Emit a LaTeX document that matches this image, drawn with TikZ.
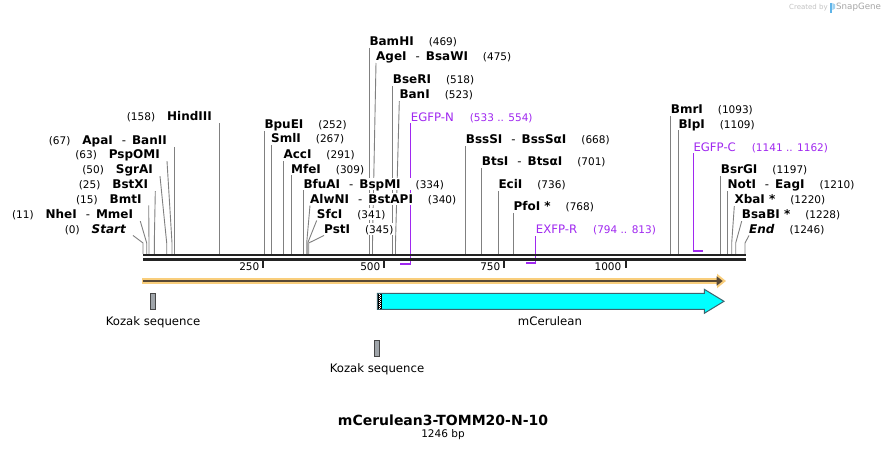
\documentclass[tikz,border=0pt]{standalone}
\usepackage{fontspec}
\setmainfont{DejaVu Sans}
\usepackage{tikz}
\usetikzlibrary{arrows.meta,positioning}

\definecolor{seqgray}{RGB}{35,35,35}
\definecolor{cutgray}{RGB}{128,128,128}
\definecolor{primer}{RGB}{160,40,240}
\definecolor{orfpale}{RGB}{249,206,124}
\definecolor{orfdark}{RGB}{88,72,52}
\definecolor{cdsfill}{RGB}{0,255,255}
\definecolor{cdsline}{RGB}{60,100,110}
\definecolor{kozfill}{RGB}{160,165,170}
\definecolor{kozline}{RGB}{70,70,70}
\definecolor{wmgray}{RGB}{195,195,195}
\definecolor{logoblue}{RGB}{95,180,232}

\pgfdeclarelayer{bg}
\pgfsetlayers{bg,main}

\newcommand{\enzname}[1]{{\fontsize{12bp}{13bp}\selectfont\bfseries #1}}
\newcommand{\enzpos}[1]{{\fontsize{10.5bp}{12bp}\selectfont(#1)}}
\newcommand{\enzsep}{\hspace{9bp}-\hspace{6bp}}

\tikzset{
  lcut/.style={anchor=east, inner xsep=7bp, inner ysep=0pt, text height=10bp, text depth=2bp, fill=white},
  rcut/.style={anchor=west, inner xsep=0pt, inner ysep=0pt, text height=10bp, text depth=2bp, fill=white},
  cut/.style={draw=cutgray, line width=0.9bp},
  primerline/.style={draw=primer, line width=1.4bp},
  primerbar/.style={draw=primer, line width=2bp},
  seq/.style={draw=seqgray, line width=2.4bp},
  tick/.style={draw=seqgray, line width=2bp},
  ticklab/.style={anchor=base east, inner sep=0pt, font=\fontsize{10.5bp}{12bp}\selectfont},
  kozak/.style={draw=kozline, fill=kozfill, line width=1bp, minimum width=5.4bp, minimum height=16bp, inner sep=0pt},
  cds/.style={draw=cdsline, fill=cdsfill, line width=1bp},
  featlab/.style={inner sep=2bp, text height=9bp, text depth=3bp}
}

\begin{document}
\begin{tikzpicture}[x=1bp, y=-1bp, font=\fontsize{11.7bp}{13bp}\selectfont]
    \useasboundingbox (0,0) rectangle (888,451);

    % Sequence {line, ticks}
    \coordinate (seqL) at (143,255);
    \coordinate (seqR) at (746,255);
    \coordinate (kink) at (0,243);
    \draw[seq] (seqL) -- (seqR);
    \draw[seq] ([yshift=-4.5bp]seqL) -- ([yshift=-4.5bp]seqR);
    \draw[tick] (263.3,259) -- (263.3,268);
    \draw[tick] (384,259) -- (384,268);
    \draw[tick] (504,259) -- (504,268);
    \draw[tick] (625.5,259) -- (625.5,268);
    \node[ticklab] (t250)  at (259.5,270.5) {250};
    \node[ticklab] (t500)  at (380.5,270.5) {500};
    \node[ticklab] (t750)  at (500.5,270.5) {750};
    \node[ticklab] (t1000) at (621.5,270.5) {1000};

    % Cut sites on the sequence
    \coordinate (c0)    at (143,254);
    \coordinate (c11)   at (146.7,254);
    \coordinate (c15)   at (149,254);
    \coordinate (c25)   at (154.3,254);
    \coordinate (c50)   at (166.7,254);
    \coordinate (c63)   at (172,254);
    \coordinate (c67)   at (174,254);
    \coordinate (c158)  at (219,254);
    \coordinate (c252)  at (264.3,254);
    \coordinate (c267)  at (271,254);
    \coordinate (c291)  at (283.3,254);
    \coordinate (c309)  at (291,254);
    \coordinate (c334)  at (303.3,254);
    \coordinate (c340)  at (306.7,254);
    \coordinate (c341)  at (307.7,254);
    \coordinate (c345)  at (308.7,254);
    \coordinate (c469)  at (369.3,254);
    \coordinate (c475)  at (372.5,254);
    \coordinate (c518)  at (392.7,254);
    \coordinate (c523)  at (395.5,254);
    \coordinate (c668)  at (465.7,254);
    \coordinate (c701)  at (481.7,254);
    \coordinate (c736)  at (498.3,254);
    \coordinate (c768)  at (513.3,254);
    \coordinate (c1093) at (670.7,254);
    \coordinate (c1109) at (678.3,254);
    \coordinate (c1197) at (720.7,254);
    \coordinate (c1210) at (727.3,254);
    \coordinate (c1220) at (731.7,254);
    \coordinate (c1228) at (735.7,254);
    \coordinate (c1246) at (745,254);

    % Nodes {left labels}
    \node [lcut] (hindiii) at (219,117)   {\enzpos{158}\hspace{12bp}\enzname{HindIII}};
    \node [lcut] (apai)    at (174,140.7) {\enzpos{67}\hspace{12bp}\enzname{ApaI}\enzsep\enzname{BanII}};
    \node [lcut] (pspomi)  at (167,155)   {\enzpos{63}\hspace{12bp}\enzname{PspOMI}};
    \node [lcut] (sgrai)   at (160,170)   {\enzpos{50}\hspace{12bp}\enzname{SgrAI}};
    \node [lcut] (bstxi)   at (155.3,185) {\enzpos{25}\hspace{12bp}\enzname{BstXI}};
    \node [lcut] (bmti)    at (148.7,199.3) {\enzpos{15}\hspace{12bp}\enzname{BmtI}};
    \node [lcut] (nhei)    at (140.3,215) {\enzpos{11}\hspace{12bp}\enzname{NheI}\enzsep\enzname{MmeI}};
    \node [lcut] (start)   at (133,229.3) {\enzpos{0}\hspace{12bp}\enzname{\itshape Start}};

    % Nodes {right labels}
    \node [rcut] (bpuei)  at (264.3,125)   {\enzname{BpuEI}\hspace{15bp}\enzpos{252}};
    \node [rcut] (smli)   at (271,139)     {\enzname{SmlI}\hspace{15bp}\enzpos{267}};
    \node [rcut] (acci)   at (283.3,155)   {\enzname{AccI}\hspace{15bp}\enzpos{291}};
    \node [rcut] (mfei)   at (291,169.3)   {\enzname{MfeI}\hspace{15bp}\enzpos{309}};
    \node [rcut] (bfuai)  at (303.3,184.3) {\enzname{BfuAI}\enzsep\enzname{BspMI}\hspace{15bp}\enzpos{334}};
    \node [rcut] (alwni)  at (310,199.3)   {\enzname{AlwNI}\enzsep\enzname{BstAPI}\hspace{15bp}\enzpos{340}};
    \node [rcut] (sfci)   at (316.7,214.3) {\enzname{SfcI}\hspace{15bp}\enzpos{341}};
    \node [rcut] (psti)   at (324,229.3)   {\enzname{PstI}\hspace{15bp}\enzpos{345}};
    \node [rcut] (bamhi)  at (369.3,41.7)  {\enzname{BamHI}\hspace{15bp}\enzpos{469}};
    \node [rcut] (agei)   at (376,56.7)    {\enzname{AgeI}\enzsep\enzname{BsaWI}\hspace{15bp}\enzpos{475}};
    \node [rcut] (bseri)  at (392.7,80)    {\enzname{BseRI}\hspace{15bp}\enzpos{518}};
    \node [rcut] (bani)   at (399.3,95)    {\enzname{BanI}\hspace{15bp}\enzpos{523}};
    \node [rcut] (bsssi)  at (465.7,140)   {\enzname{BssSI}\enzsep\enzname{BssSαI}\hspace{15bp}\enzpos{668}};
    \node [rcut] (btsi)   at (481.7,161.7) {\enzname{BtsI}\enzsep\enzname{BtsαI}\hspace{15bp}\enzpos{701}};
    \node [rcut] (ecii)   at (498.3,185)   {\enzname{EciI}\hspace{15bp}\enzpos{736}};
    \node [rcut] (pfoi)   at (513.3,206.7) {\enzname{PfoI *}\hspace{15bp}\enzpos{768}};
    \node [rcut] (bmri)   at (670.7,110)   {\enzname{BmrI}\hspace{15bp}\enzpos{1093}};
    \node [rcut] (blpi)   at (678.3,124.3) {\enzname{BlpI}\hspace{15bp}\enzpos{1109}};
    \node [rcut] (bsrgi)  at (720.7,170)   {\enzname{BsrGI}\hspace{15bp}\enzpos{1197}};
    \node [rcut] (noti)   at (727.3,185)   {\enzname{NotI}\enzsep\enzname{EagI}\hspace{15bp}\enzpos{1210}};
    \node [rcut] (xbai)   at (734.3,200)   {\enzname{XbaI *}\hspace{15bp}\enzpos{1220}};
    \node [rcut] (bsabi)  at (741.7,215)   {\enzname{BsaBI *}\hspace{15bp}\enzpos{1228}};
    \node [rcut] (endl)   at (749,229.3)   {\enzname{\itshape End}\hspace{15bp}\enzpos{1246}};

    % Nodes {primers}
    \node [rcut, text=primer] (egfpn) at (410.7,117.3) {EGFP-N\hspace{16bp}\enzpos{533 .. 554}};
    \node [rcut, text=primer] (exfpr) at (535.7,230)   {EXFP-R\hspace{16bp}\enzpos{794 .. 813}};
    \node [rcut, text=primer] (egfpc) at (693.3,147.3) {EGFP-C\hspace{16bp}\enzpos{1141 .. 1162}};
    \coordinate (egfpn-5) at (400,264.3);
    \coordinate (egfpn-3) at (410.7,264.3);
    \coordinate (exfpr-5) at (526,263.5);
    \coordinate (exfpr-3) at (535.7,263.5);
    \coordinate (egfpc-5) at (693.3,251);
    \coordinate (egfpc-3) at (702.7,251);

    \begin{pgfonlayer}{bg}
    \fill[white] (0,0) rectangle (888,451);

    % Paths {left leaders}
    \path [cut] (hindiii.south east) -- (c158);
    \path [cut] (apai.south east) -- (c67);
    \path [cut] (pspomi.south east) -- (c63 |- kink) -- (c63);
    \path [cut] (sgrai.south east) -- (c50 |- kink) -- (c50);
    \path [cut] (bstxi.south east) -- (c25 |- kink) -- (c25);
    \path [cut] (bmti.south east) -- (c15 |- kink) -- (c15);
    \path [cut] (nhei.south east) -- (c11 |- kink) -- (c11);
    \path [cut] (start.south east) -- (c0 |- kink) -- (c0);

    % Paths {right leaders}
    \path [cut] (bpuei.south west) -- (c252);
    \path [cut] (smli.south west) -- (c267);
    \path [cut] (acci.south west) -- (c291);
    \path [cut] (mfei.south west) -- (c309);
    \path [cut] (bfuai.south west) -- (c334);
    \path [cut] (alwni.south west) -- (c340 |- kink) -- (c340);
    \path [cut] (sfci.south west) -- (c341 |- kink) -- (c341);
    \path [cut] (psti.south west) -- (c345 |- kink) -- (c345);
    \path [cut] (bamhi.south west) -- (c469);
    \path [cut] (agei.south west) -- (c475 |- kink) -- (c475);
    \path [cut] (bseri.south west) -- (c518);
    \path [cut] (bani.south west) -- (c523 |- kink) -- (c523);
    \path [cut] (bsssi.south west) -- (c668);
    \path [cut] (btsi.south west) -- (c701);
    \path [cut] (ecii.south west) -- (c736);
    \path [cut] (pfoi.south west) -- (c768);
    \path [cut] (bmri.south west) -- (c1093);
    \path [cut] (blpi.south west) -- (c1109);
    \path [cut] (bsrgi.south west) -- (c1197);
    \path [cut] (noti.south west) -- (c1210);
    \path [cut] (xbai.south west) -- (c1220 |- kink) -- (c1220);
    \path [cut] (bsabi.south west) -- (c1228 |- kink) -- (c1228);
    \path [cut] (endl.south west) -- (c1246 |- kink) -- (c1246);

    % Paths {primers}
    \path [primerline] (egfpn.south west) -- ([yshift=-1bp]egfpn-3);
    \path [primerline] (exfpr.south west) -- ([yshift=-1bp]exfpr-3);
    \path [primerline] (egfpc.south west) -- ([yshift=-1bp]egfpc-5);
    \end{pgfonlayer}
    \path [primerbar] (egfpn-5) -- ([xshift=0.7bp]egfpn-3);
    \path [primerbar] (exfpr-5) -- ([xshift=0.7bp]exfpr-3);
    \path [primerbar] ([xshift=-0.7bp]egfpc-5) -- (egfpc-3);

    % Features
    \draw [orfpale, line width=6.3bp, -{Triangle[length=9bp,width=14bp]}] (142.3,281) -- (726,281);
    \draw [orfdark, line width=2.3bp, -{Triangle[length=6bp,width=9bp]}] (143,281) -- (722.7,281);
    \node [kozak] (koz1) at (153,301.3) {};
    \node [kozak] (koz2) at (377,348.3) {};
    \node [featlab] (koz1lab) [below=4.5bp of koz1] {Kozak sequence};
    \node [featlab] (koz2lab) [below=4.5bp of koz2] {Kozak sequence};
    \draw [cds] (377.3,293.3) -- (704.3,293.3) -- (704.3,289.3) -- (724,301.3)
        -- (704.3,313.3) -- (704.3,309.3) -- (377.3,309.3) -- cycle;
    \fill [black] (378.4,293.9) rectangle (381.6,308.8);
    \draw [white, line width=1bp, dash pattern=on 1bp off 1bp] (379.2,293.9) -- (379.2,308.8);
    \draw [white, line width=1bp, dash pattern=on 1bp off 1bp, dash phase=1bp] (380.8,293.9) -- (380.8,308.8);
    \node [featlab, anchor=base] (cerlab) at (550,325.5) {mCerulean};

    % Title
    \node [font=\fontsize{14bp}{16bp}\selectfont\bfseries] (title) at (443,420) {mCerulean3-TOMM20-N-10};
    \node [font=\fontsize{10.5bp}{12bp}\selectfont] (len) [below=-3bp of title] {1246 bp};

    % Watermark
    \node [anchor=west, inner sep=0pt, text=wmgray, font=\fontsize{7bp}{8bp}\selectfont] (wmby) at (789,8) {Created by};
    \fill [logoblue] (830,3) rectangle (832.4,13);
    \fill [logoblue!60] (832.4,3) -- (835.2,4.5) -- (835.2,8.5) -- (832.4,10) -- cycle;
    \node [anchor=west, inner sep=0pt, text=wmgray!85!black, font=\fontsize{8.7bp}{10bp}\selectfont] (wmsg) at (836,7.5) {SnapGene};
\end{tikzpicture}
\end{document}
